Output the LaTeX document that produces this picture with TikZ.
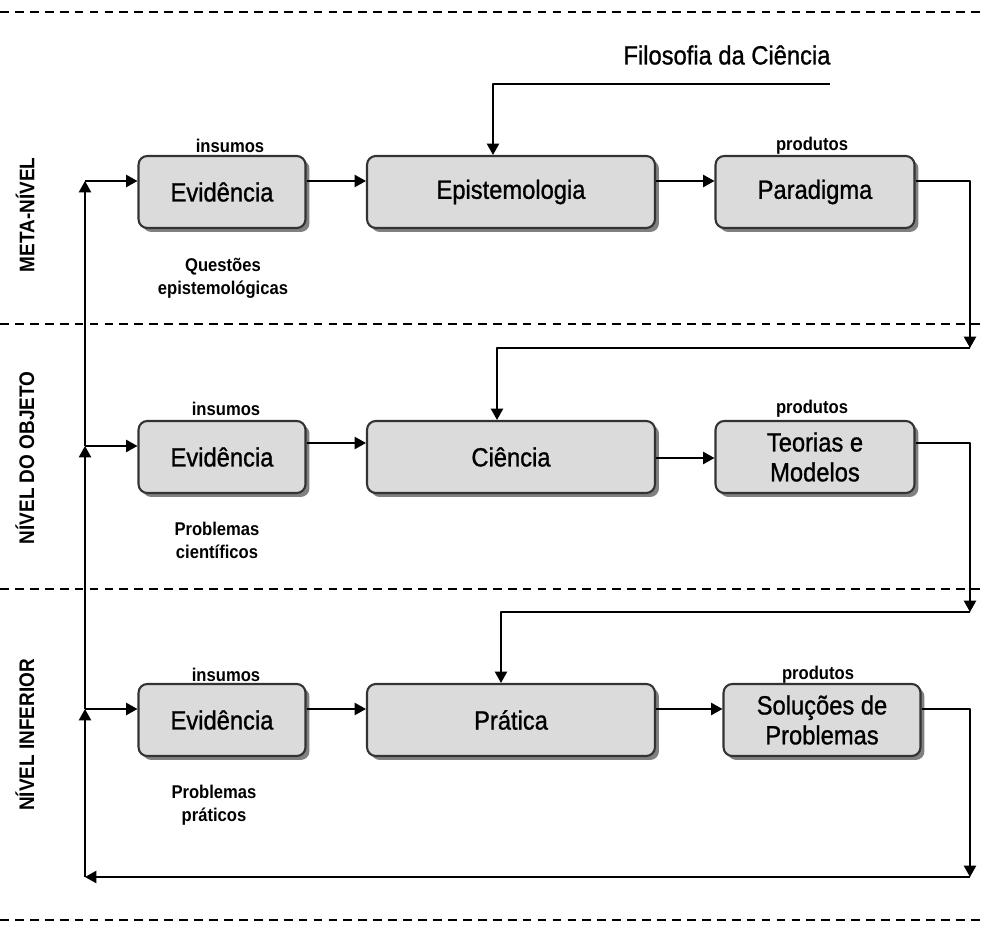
\documentclass[tikz,border=0pt]{standalone}
\usepackage{fontspec}
\setmainfont[FakeStretch=0.9]{Liberation Sans}
\newfontfamily\caixafont[FakeStretch=0.9,FakeBold=1]{Liberation Sans}
\usetikzlibrary{arrows.meta,shadows}
\tikzset{
  every picture/.style={line join=round, >={Triangle[length=6.5pt,width=7pt]}},
  caixa/.style={draw=black!80, line width=1.2pt, fill=black!14, rounded corners=5pt,
    minimum height=1.44cm, inner sep=2pt, align=center, font=\caixafont\fontsize{15}{17}\selectfont,
    drop shadow={shadow xshift=0.08cm, shadow yshift=-0.08cm, fill=black!50, opacity=1}},
  rotulo/.style={font=\bfseries\fontsize{10.5}{13}\selectfont, align=center, inner sep=0pt},
  nivel/.style={font=\bfseries\fontsize{12}{14}\selectfont, rotate=90, inner sep=0pt},
  divisa/.style={dash pattern=on 5pt off 3.5pt, line width=0.8pt},
  seta/.style={->, line width=1pt},
}

\begin{document}
\begin{tikzpicture}[x=0.02cm,y=0.02cm]
\useasboundingbox (0,0) rectangle (984,-925);
% faixas
\draw[divisa] (0,-12)--(984,-12);
\draw[divisa] (0,-324)--(984,-324);
\draw[divisa] (0,-589)--(984,-589);
\draw[divisa] (0,-920)--(984,-920);
\node[nivel] (meta) at (25,-215) {META-NÍVEL};
\node[nivel] (objeto) at (25,-458) {NÍVEL DO OBJETO};
\node[nivel] (inferior) at (25,-735) {NÍVEL INFERIOR};

% meta-nivel
\node[caixa, minimum width=3.34cm] (evid1) at (222,-192) {Evidência};
\node[caixa, minimum width=5.76cm] (epist) at (511,-192) {Epistemologia};
\node[caixa, minimum width=3.98cm] (parad) at (815,-192) {Paradigma};
\node[rotulo] (ins1) at (230,-146) {insumos};
\node[rotulo] (prod1) at (812,-146) {produtos};
\node[rotulo] (quest) at (223,-278) {Questões\\epistemológicas};
\node[font=\caixafont\fontsize{15}{17}\selectfont, inner sep=0pt] (filo) at (727,-55) {Filosofia da Ciência};

% nivel do objeto
\node[caixa, minimum width=3.34cm] (evid2) at (222,-457) {Evidência};
\node[caixa, minimum width=5.76cm] (cien) at (511,-457) {Ciência};
\node[caixa, minimum width=3.98cm] (teor) at (815,-457) {Teorias e\\Modelos};
\node[rotulo] (ins2) at (226,-409) {insumos};
\node[rotulo] (prod2) at (812,-409) {produtos};
\node[rotulo] (probc) at (217,-540) {Problemas\\científicos};

% nivel inferior
\node[caixa, minimum width=3.34cm] (evid3) at (222,-720) {Evidência};
\node[caixa, minimum width=5.76cm] (prat) at (511,-720) {Prática};
\node[caixa, minimum width=3.94cm] (sol) at (822,-720) {Soluções de\\Problemas};
\node[rotulo] (ins3) at (226,-675) {insumos};
\node[rotulo] (prod3) at (818,-675) {produtos};
\node[rotulo] (probp) at (214,-805) {Problemas\\práticos};

% pontos de ligacao
\coordinate (f1) at (830,-84);
\coordinate (f2) at (493,-84);
\coordinate (d1) at (970,-348);
\coordinate (e1) at (497,-348);
\coordinate (d2) at (970,-612);
\coordinate (e2) at (501,-612);
\coordinate (br) at (970,-877);
\coordinate (bl) at (85,-877);
\coordinate (a1) at (85,-181);
\coordinate (a2) at (85,-446);
\coordinate (a3) at (85,-709);

% setas
\draw[seta] (f1)--(f2)--(f2 |- epist.north);
\draw[seta] (a1)--(a1 -| evid1.west);
\draw[seta] (evid1.east |- a1)--(epist.west |- a1);
\draw[seta] (epist.east |- a1)--(parad.west |- a1);
\draw[seta] (parad.east |- a1)--(d1 |- a1)--(d1);
\draw[seta] (d1)--(e1)--(e1 |- cien.north);

\draw[seta] (a2)--(a2 -| evid2.west);
\draw[seta] (evid2.east |- 0,-443)--(cien.west |- 0,-443);
\draw[seta] (cien.east |- 0,-458)--(teor.west |- 0,-458);
\draw[seta] (teor.east |- 0,-443)--(d2 |- 0,-443)--(d2);
\draw[seta] (d2)--(e2)--(e2 |- prat.north);

\draw[seta] (a3)--(a3 -| evid3.west);
\draw[seta] (evid3.east |- a3)--(prat.west |- a3);
\draw[seta] (prat.east |- a3)--(sol.west |- a3);
\draw[seta] (sol.east |- a3)--(br |- a3)--(br);
\draw[seta] (br)--(bl);
\draw[seta] (bl)--(a3);
\draw[seta] (a3)--(a2);
\draw[seta] (a2)--(a1);
\end{tikzpicture}
\end{document}
